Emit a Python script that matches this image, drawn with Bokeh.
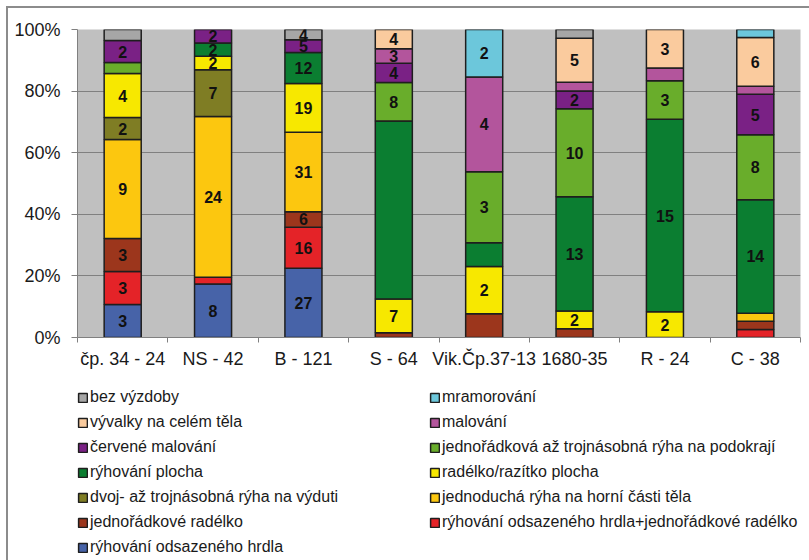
import numpy as np
from bokeh.plotting import figure
from bokeh.layouts import column
from bokeh.models import (ColumnDataSource, Range1d, FixedTicker, NumeralTickFormatter,
                          Legend, LegendItem)
from bokeh.core.properties import value
from bokeh.embed import file_html
from bokeh.resources import INLINE

# ---------------- data ----------------
categories = ["čp. 34 - 24", "NS - 42", "B - 121", "S - 64",
              "Vik.Čp.37-13", "1680-35", "R - 24", "C - 38"]

# counts per category, series listed from bottom of the stack to the top
ryhovani_hrdla = [3, 8, 27, 0, 0, 0, 0, 0]
ryhovani_hrdla_radelko = [3, 1, 16, 0, 0, 0, 0, 1]
jednoradkove_radelko = [3, 0, 6, 1, 1, 1, 0, 1]
jednoducha_ryha = [9, 24, 31, 0, 0, 0, 0, 1]
dvoj_trojnasobna = [2, 7, 0, 0, 0, 0, 0, 0]
radelko_plocha = [4, 2, 19, 7, 2, 2, 2, 0]
ryhovani_plocha = [0, 2, 12, 37, 1, 13, 15, 14]
ryha_podokraji = [1, 0, 0, 8, 3, 10, 3, 8]
cervene_malovani = [2, 2, 5, 4, 0, 2, 0, 5]
malovani = [0, 0, 0, 3, 4, 1, 1, 1]
vyvalky = [0, 0, 0, 4, 0, 5, 3, 6]
mramorovani = [0, 0, 0, 0, 2, 0, 0, 1]
bez_vyzdoby = [1, 0, 4, 0, 0, 1, 0, 0]

series_names = [
    "rýhování odsazeného hrdla",
    "rýhování odsazeného hrdla+jednořádkové radélko",
    "jednořádkové radélko",
    "jednoduchá rýha na horní části těla",
    "dvoj- až trojnásobná rýha na výduti",
    "radélko/razítko plocha",
    "rýhování plocha",
    "jednořádková až trojnásobná rýha na podokrají",
    "červené malování",
    "malování",
    "vývalky na celém těla",
    "mramorování",
    "bez výzdoby",
]
series_values = [ryhovani_hrdla, ryhovani_hrdla_radelko, jednoradkove_radelko,
                 jednoducha_ryha, dvoj_trojnasobna, radelko_plocha, ryhovani_plocha,
                 ryha_podokraji, cervene_malovani, malovani, vyvalky, mramorovani,
                 bez_vyzdoby]
series_colors = ["#4763A8", "#E42328", "#9C361C", "#FCC70F", "#7F7D24", "#F7E800",
                 "#0B7E31", "#69AD2B", "#7A2185", "#B3559C", "#FACB9E", "#6CC7DB",
                 "#A6A6A6"]

# segments whose count is not printed in the original
unlabeled = [("S - 64", "rýhování plocha")]

FRAME_LINE = "#8c8c8c"

# ---------------- chart figure ----------------
n = len(categories)
centers = [i + 0.5 for i in range(n)]
bounds = [float(i) for i in range(n + 1)]

p = figure(width=809, height=375, output_backend="svg", toolbar_location=None,
           x_range=Range1d(0, n), y_range=Range1d(0, 1),
           min_border_left=77, min_border_right=9, min_border_top=29,
           min_border_bottom=38,
           background_fill_color="#C0C0C0", border_fill_alpha=0,
           outline_line_color=None)
p.styles = {
    "background": f"linear-gradient({FRAME_LINE}, {FRAME_LINE}) 6px 6px / 2px 100% no-repeat, "
                  f"linear-gradient({FRAME_LINE}, {FRAME_LINE}) 6px 6px / 100% 2px no-repeat, white"
}

axis_font = "Liberation Sans"
p.xgrid.visible = False
p.ygrid.grid_line_color = "#808080"
p.ygrid.grid_line_width = 1

xa = p.xaxis[0]
xa.ticker = FixedTicker(ticks=centers, minor_ticks=bounds)
xa.major_label_overrides = {c: lab for c, lab in zip(centers, categories)}
xa.major_tick_out = 0
xa.major_tick_in = 0
xa.minor_tick_out = 5
xa.minor_tick_in = 0
xa.minor_tick_line_color = "#808080"
xa.axis_line_color = "#808080"
xa.major_label_standoff = 6
xa.major_label_text_font = axis_font
xa.major_label_text_font_size = "18px"
xa.major_label_text_color = "#1a1a1a"

ya = p.yaxis[0]
ya.ticker = FixedTicker(ticks=[0, 0.2, 0.4, 0.6, 0.8, 1.0], minor_ticks=[])
ya.formatter = NumeralTickFormatter(format="0%")
ya.major_tick_out = 6
ya.major_tick_in = 0
ya.minor_tick_out = 0
ya.minor_tick_in = 0
ya.major_tick_line_color = "#808080"
ya.axis_line_color = "#808080"
ya.major_label_standoff = 11
ya.major_label_text_font = axis_font
ya.major_label_text_font_size = "18px"
ya.major_label_text_color = "#1a1a1a"

# ---------------- stacked bars ----------------
vals = np.array(series_values, dtype=float)
totals = vals.sum(axis=0)
frac = vals / totals
cum_top = np.cumsum(frac, axis=0)
cum_bot = cum_top - frac

lab_x, lab_y, lab_t = [], [], []
for s, name in enumerate(series_names):
    idx = [i for i in range(n) if vals[s, i] > 0]
    src = ColumnDataSource(dict(
        x=[centers[i] for i in idx],
        bottom=[cum_bot[s, i] for i in idx],
        top=[cum_top[s, i] for i in idx],
    ))
    p.vbar(x="x", bottom="bottom", top="top", width=0.41, source=src,
           fill_color=series_colors[s], line_color="#1e1e1e", line_width=1.5)
    for i in idx:
        if vals[s, i] >= 2 and (categories[i], name) not in unlabeled:
            lab_x.append(centers[i])
            lab_y.append((cum_bot[s, i] + cum_top[s, i]) / 2)
            lab_t.append(str(int(vals[s, i])))

p.text(x=lab_x, y=lab_y, text=lab_t, text_font=value("Liberation Sans"),
       text_font_style="bold", text_font_size="16px", text_align="center",
       text_baseline="middle", text_color="#111111")

# ---------------- legend figure (two columns, Excel order) ----------------
leg_fig = figure(width=809, height=185, output_backend="svg", toolbar_location=None,
                 x_range=Range1d(0, 1), y_range=Range1d(0, 1),
                 x_axis_type=None, y_axis_type=None, min_border=0,
                 background_fill_alpha=0, border_fill_alpha=0, outline_line_color=None)
leg_fig.styles = {
    "background": f"linear-gradient({FRAME_LINE}, {FRAME_LINE}) 6px 0 / 2px 100% no-repeat, white"
}

# legend swatches: one undrawn (NaN) point per series, only their legend glyphs show
swatches = {}
for s, name in enumerate(series_names):
    sw_src = ColumnDataSource(dict(x=np.array([np.nan]), top=np.array([np.nan])))
    swatches[name] = leg_fig.vbar(x="x", top="top", width=0.1, source=sw_src,
                                  fill_color=series_colors[s],
                                  line_color="#1e1e1e", line_width=1.5)

top_first = list(reversed(series_names))
col1 = top_first[0::2]
col2 = top_first[1::2]
ordered = col1 + col2

legend = Legend(items=[LegendItem(label=nm, renderers=[swatches[nm]]) for nm in ordered],
                location=(0, 4), orientation="vertical", nrows=7,
                glyph_width=11, glyph_height=11, label_height=11, label_standoff=2,
                label_width=332, spacing=7, padding=2, margin=0, border_line_color=None,
                background_fill_alpha=0, label_text_font="Liberation Sans",
                label_text_font_size="16px", label_text_color="#1a1a1a")
leg_fig.add_layout(legend)

open("out.html", "w").write(file_html(column(p, leg_fig, spacing=0), INLINE))
